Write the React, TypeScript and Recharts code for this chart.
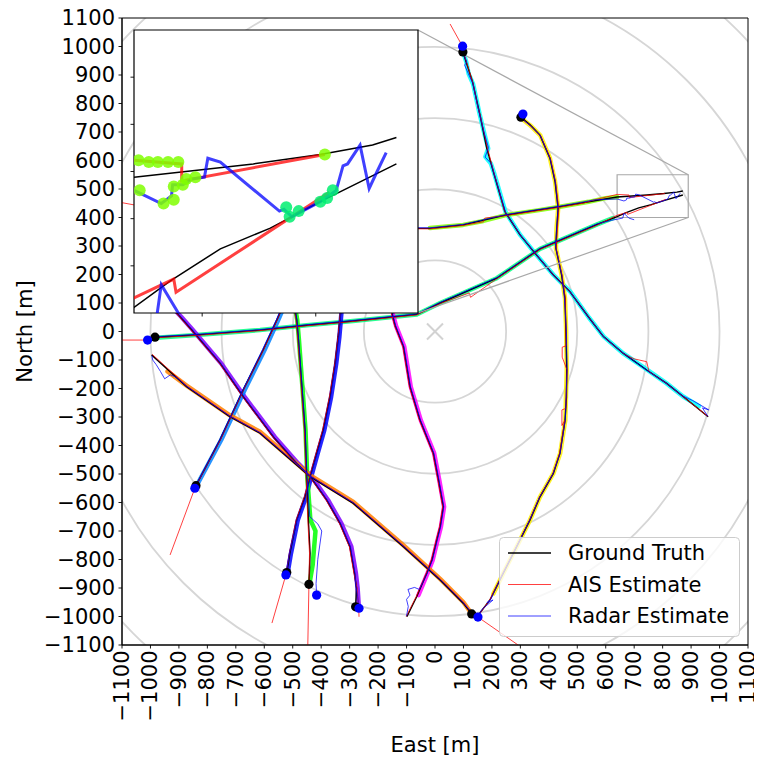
import React from 'react';
import { ComposedChart, Line, Scatter, XAxis, YAxis, ReferenceArea, ReferenceLine, Legend } from 'recharts';

type Pt = [number, number];

// ---------- tick labels / axes ----------
const AXIS_TICKS = [-1100, -1000, -900, -800, -700, -600, -500, -400, -300, -200, -100, 0, 100, 200, 300, 400, 500, 600, 700, 800, 900, 1000, 1100];
const AXIS_DOMAIN: [number, number] = [-1100, 1100];
const RING_RADII = [250, 500, 750, 1000, 1250, 1500];
const INSET_X_DOMAIN: [number, number] = [640, 890];
const INSET_Y_DOMAIN: [number, number] = [400, 550];
const INSET_X_TICKS = [700, 800];
const INSET_Y_TICKS = [425, 450, 475, 500, 525];
const LEGEND_LABELS = ['Ground Truth', 'AIS Estimate', 'Radar Estimate'];
const LEGEND_COLORS = ['#000000', '#ff0000', '#0000ff'];
const X_LABEL = 'East [m]';
const Y_LABEL = 'North [m]';

// ---------- track A (cyan) ----------
const A_TRUTH: Pt[] = [[98, 981], [132, 876], [158, 760], [182, 643], [205, 561], [222, 502], [246, 420], [299, 339], [357, 268], [416, 198], [474, 140], [540, 50], [592, -18], [662, -77], [744, -135], [814, -182], [873, -229], [960, -299]];
const A_AIS: Pt[] = [[53, 1079], [97, 1000], [101, 978], [134, 870], [150, 790], [160, 755], [184, 645], [207, 558], [224, 500], [243, 425], [301, 337], [359, 266], [418, 196], [476, 138], [542, 48], [594, -20], [664, -79], [700, -96], [744, -106], [752, -140], [816, -184], [875, -231], [958, -297]];
const A_RADAR: Pt[] = [[97, 1001], [100, 975], [112, 945], [104, 935], [117, 905], [133, 870], [156, 765], [172, 700], [188, 645], [176, 612], [197, 590], [206, 558], [224, 500], [248, 418], [302, 336], [356, 270], [414, 200], [476, 138], [538, 52], [594, -20], [664, -78], [746, -137], [812, -181], [870, -226], [905, -242], [962, -275], [940, -268], [958, -297]];
const A_MEAS: Pt[] = [[100, 978], [110, 945], [118, 905], [134, 868], [157, 762], [172, 700], [187, 642], [177, 613], [196, 590], [207, 558], [224, 500], [248, 419], [300, 338], [357, 268], [416, 199], [476, 139], [540, 50], [593, -18], [663, -78], [745, -134], [814, -182], [872, -228], [928, -262]];

// ---------- track B (yellow) ----------
const B_TRUTH: Pt[] = [[302, 752], [334, 725], [369, 689], [404, 608], [422, 526], [433, 432], [428, 360], [425, 292], [445, 198], [457, 116], [460, 0], [463, -135], [462, -230], [457, -311], [439, -427], [416, -498], [369, -580], [334, -661], [287, -755], [240, -848], [193, -942], [152, -995]];
const B_AIS: Pt[] = [[303, 748], [336, 722], [371, 686], [406, 606], [424, 524], [435, 430], [430, 358], [426, 290], [447, 196], [458, 114], [461, -50], [447, -55], [447, -90], [464, -135], [460, -270], [446, -275], [446, -330], [456, -312], [438, -428], [414, -500], [367, -582], [332, -663], [285, -757], [238, -850], [191, -944], [154, -994]];
const B_RADAR: Pt[] = [[309, 763], [303, 748], [335, 722], [370, 688], [405, 605], [423, 524], [432, 430], [427, 360], [423, 300], [446, 196], [455, 115], [462, 0], [464, -135], [458, -310], [440, -428], [414, -500], [367, -582], [332, -663], [288, -752], [238, -850], [196, -940], [182, -952], [204, -942], [165, -975], [152, -998]];
const B_MEAS: Pt[] = [[301, 750], [334, 724], [370, 688], [404, 608], [422, 526], [433, 432], [427, 360], [425, 292], [445, 198], [457, 116], [461, 0], [463, -135], [458, -311], [440, -427], [416, -498], [369, -580], [334, -661], [287, -755], [240, -848], [205, -920]];

// ---------- track C (chartreuse, upper line through inset) ----------
const C_TRUTH: Pt[] = [[-1040, 440], [-800, 405], [-500, 375], [-250, 362], [-18, 362], [99, 374], [252, 409], [439, 438], [640, 472], [745, 479], [804, 484], [850, 489], [871, 493]];
const C_AIS: Pt[] = [[-1100, 452], [-1040, 441], [-800, 404], [-500, 374], [-250, 361], [-18, 360], [99, 372], [170, 385], [175, 398], [252, 407], [439, 436], [520, 450], [560, 462], [640, 481], [682, 479], [682, 470], [808, 484]];
const C_RADAR: Pt[] = [[-1040, 445], [-800, 407], [-500, 377], [-250, 364], [-18, 364], [99, 376], [252, 411], [439, 440], [560, 462], [640, 465], [664, 458], [673, 462], [674, 468], [683, 468], [691, 471], [702, 472], [705, 482], [716, 480], [768, 454], [772, 455], [779, 451], [804, 459], [818, 465], [824, 478], [828, 479], [839, 489], [847, 466], [854, 475], [862, 485]];
const C_MEAS: Pt[] = [[-18, 363], [99, 374], [170, 388], [252, 409], [360, 425], [439, 438], [540, 455], [600, 468], [640, 472]];
const C_INSET_MEAS: Pt[] = [[644, 481], [653, 480], [661, 480], [670, 480], [679, 480], [686, 471], [694, 472], [808, 484], [645, 465], [666, 458], [675, 460], [675, 467], [683, 468]];

// ---------- track D (spring green, lower line through inset) ----------
const D_TRUTH: Pt[] = [[-984, -20], [-838, -12], [-615, 5], [-451, 22], [-288, 37], [-64, 60], [18, 100], [217, 187], [369, 290], [568, 375], [640, 403], [672, 417], [716, 434], [760, 445], [804, 459], [871, 479]];
const D_AIS: Pt[] = [[-1100, -30], [-1010, -30], [-984, -22], [-838, -14], [-615, 3], [-451, 20], [-288, 35], [-64, 58], [18, 98], [120, 135], [125, 120], [217, 185], [369, 288], [568, 372], [640, 408], [675, 418], [677, 411], [812, 464]];
const D_RADAR: Pt[] = [[-1010, -30], [-984, -18], [-838, -10], [-615, 7], [-451, 24], [-288, 39], [-64, 62], [18, 102], [217, 189], [369, 292], [568, 377], [620, 390], [660, 398], [664, 415], [681, 398], [700, 392]];
const D_MEAS: Pt[] = [[-980, -22], [-838, -12], [-615, 5], [-451, 22], [-288, 37], [-64, 60], [18, 100], [217, 187], [369, 290], [568, 375], [625, 398]];
const D_INSET_MEAS: Pt[] = [[774, 456], [777, 451], [785, 454], [804, 459], [810, 461], [815, 465]];

// ---------- track E (violet) ----------
const E_TRUTH: Pt[] = [[-279, -966], [-276, -900], [-283, -848], [-299, -755], [-334, -673], [-381, -591], [-439, -509], [-486, -463], [-568, -370], [-674, -229], [-755, -112], [-855, 5], [-896, 52], [-931, 89], [-990, 160]];
const E_AIS: Pt[] = [[-267, -1001], [-268, -971], [-274, -900], [-285, -848], [-301, -755], [-336, -673], [-383, -591], [-441, -509], [-488, -463], [-570, -370], [-676, -229], [-757, -112], [-857, 5], [-898, 52], [-933, 89], [-990, 160]];
const E_RADAR: Pt[] = [[-267, -971], [-272, -930], [-278, -895], [-281, -848], [-297, -755], [-332, -673], [-379, -591], [-437, -509], [-484, -463], [-566, -370], [-672, -229], [-753, -112], [-853, 6], [-894, 53], [-929, 90], [-990, 162]];
const E_MEAS: Pt[] = [[-268, -960], [-272, -900], [-278, -848], [-294, -755], [-329, -673], [-376, -591], [-434, -509], [-481, -463], [-563, -370], [-669, -229], [-751, -112], [-851, 5], [-892, 52], [-927, 89], [-950, 110]];

// ---------- track F (azure) ----------
const F_TRUTH: Pt[] = [[-840, -541], [-756, -381], [-674, -205], [-604, -65], [-556, 40], [-510, 146], [-300, 560]];
const F_AIS: Pt[] = [[-931, -784], [-844, -550], [-838, -538], [-754, -380], [-672, -203], [-602, -63], [-554, 42], [-508, 148], [-300, 560]];
const F_RADAR: Pt[] = [[-844, -550], [-836, -532], [-758, -383], [-676, -207], [-606, -63], [-557, 42], [-512, 147], [-300, 560]];
const F_MEAS: Pt[] = [[-835, -536], [-751, -380], [-669, -205], [-599, -65], [-551, 40], [-505, 146], [-400, 360]];

// ---------- track G (blue) ----------
const G_TRUTH: Pt[] = [[-521, -846], [-510, -778], [-486, -661], [-457, -580], [-439, -509], [-416, -427], [-393, -346], [-369, -229], [-351, -112], [-340, -18], [-334, 40], [-328, 110], [-310, 400]];
const G_AIS: Pt[] = [[-573, -1023], [-524, -854], [-512, -778], [-488, -661], [-459, -580], [-441, -509], [-418, -427], [-395, -346], [-371, -229], [-352, -112], [-341, -18], [-335, 40], [-329, 110], [-310, 400]];
const G_RADAR: Pt[] = [[-524, -854], [-512, -780], [-485, -662], [-455, -582], [-438, -510], [-414, -428], [-391, -347], [-367, -230], [-349, -113], [-338, -18], [-333, 40], [-327, 110], [-310, 400]];
const G_MEAS: Pt[] = [[-518, -848], [-506, -778], [-482, -661], [-453, -580], [-435, -509], [-412, -427], [-389, -346], [-365, -229], [-347, -112], [-336, -18], [-331, 40], [-325, 110]];

// ---------- track H (green) ----------
const H_TRUTH: Pt[] = [[-443, -887], [-439, -778], [-445, -661], [-451, -509], [-457, -346], [-468, -194], [-480, -30], [-486, 40], [-498, 110], [-520, 400]];
const H_AIS: Pt[] = [[-447, -1100], [-443, -887], [-441, -778], [-447, -661], [-453, -509], [-459, -346], [-470, -194], [-482, -30], [-488, 40], [-500, 110], [-520, 400]];
const H_RADAR: Pt[] = [[-416, -925], [-418, -884], [-412, -800], [-398, -700], [-412, -675], [-440, -650], [-450, -509], [-456, -346], [-467, -194], [-479, -30], [-485, 40], [-497, 110], [-520, 400]];
const H_MEAS: Pt[] = [[-441, -885], [-430, -820], [-425, -760], [-420, -700], [-438, -661], [-449, -509], [-455, -346], [-466, -194], [-478, -30], [-484, 40], [-496, 110]];

// ---------- track I (magenta) ----------
const I_TRUTH: Pt[] = [[-160, 260], [-150, 58], [-140, 20], [-111, -53], [-88, -194], [-53, -311], [-6, -427], [12, -521], [29, -615], [18, -685], [6, -732], [-11, -802], [-29, -848], [-64, -930], [-99, -1001]];
const I_AIS: Pt[] = [[-162, 260], [-152, 58], [-142, 20], [-113, -53], [-90, -194], [-55, -311], [-8, -427], [10, -521], [27, -615], [16, -685], [4, -732], [-13, -802], [-31, -848], [-66, -930], [-101, -1000]];
const I_RADAR: Pt[] = [[-158, 260], [-148, 58], [-138, 20], [-109, -53], [-86, -194], [-51, -311], [-4, -427], [14, -521], [31, -615], [20, -685], [8, -732], [-9, -802], [-27, -848], [-55, -905], [-72, -898], [-95, -905], [-88, -925], [-100, -940], [-94, -965], [-100, -998]];
const I_MEAS: Pt[] = [[-147, 58], [-137, 20], [-108, -53], [-85, -194], [-50, -311], [-3, -427], [15, -521], [32, -615], [21, -685], [9, -732], [-8, -802], [-26, -848], [-58, -925]];

// ---------- track J (orange) ----------
const J_TRUTH: Pt[] = [[129, -991], [100, -954], [18, -872], [-111, -755], [-287, -603], [-439, -509], [-615, -357], [-721, -299], [-873, -194], [-996, -82]];
const J_AIS: Pt[] = [[292, -1100], [151, -1002], [131, -990], [102, -952], [20, -870], [-109, -753], [-285, -601], [-437, -507], [-613, -355], [-719, -297], [-871, -192], [-994, -80]];
const J_RADAR: Pt[] = [[151, -1002], [128, -985], [98, -950], [18, -870], [-111, -753], [-287, -601], [-439, -507], [-615, -355], [-721, -297], [-873, -192], [-910, -160], [-930, -152], [-950, -166], [-965, -140], [-980, -116], [-992, -100], [-995, -85]];
const J_MEAS: Pt[] = [[125, -985], [100, -950], [18, -868], [-111, -750], [-287, -598], [-439, -504], [-615, -352], [-721, -294], [-873, -190], [-940, -140]];

// ---------- start markers ----------
const BLACK_DOTS: Pt[] = [[98, 981], [302, 752], [-984, -20], [-279, -966], [-840, -541], [-521, -846], [-443, -887], [129, -991]];
const BLUE_DOTS: Pt[] = [[97, 1001], [309, 763], [-1010, -30], [-267, -971], [-844, -550], [-524, -854], [-416, -925], [151, -1002]];

const TRACKS = [
  { id: 'A', color: '#00ffff', truth: A_TRUTH, ais: A_AIS, radar: A_RADAR, meas: A_MEAS },
  { id: 'B', color: '#ffee00', truth: B_TRUTH, ais: B_AIS, radar: B_RADAR, meas: B_MEAS },
  { id: 'C', color: '#80ff00', truth: C_TRUTH, ais: C_AIS, radar: C_RADAR, meas: C_MEAS },
  { id: 'D', color: '#00ff80', truth: D_TRUTH, ais: D_AIS, radar: D_RADAR, meas: D_MEAS },
  { id: 'E', color: '#8000ff', truth: E_TRUTH, ais: E_AIS, radar: E_RADAR, meas: E_MEAS },
  { id: 'F', color: '#0080ff', truth: F_TRUTH, ais: F_AIS, radar: F_RADAR, meas: F_MEAS },
  { id: 'G', color: '#0000ff', truth: G_TRUTH, ais: G_AIS, radar: G_RADAR, meas: G_MEAS },
  { id: 'H', color: '#00ff00', truth: H_TRUTH, ais: H_AIS, radar: H_RADAR, meas: H_MEAS },
  { id: 'I', color: '#ff00ff', truth: I_TRUTH, ais: I_AIS, radar: I_RADAR, meas: I_MEAS },
  { id: 'J', color: '#ff8000', truth: J_TRUTH, ais: J_AIS, radar: J_RADAR, meas: J_MEAS },
];

// ---------- layout (page coordinates; the container is pulled over the body margin) ----------
const FONT = "'DejaVu Sans', sans-serif";
const FS = 21;
const CHART_W = 762;
const CHART_H = 760;
const Y_AXIS_W = 100;
const X_AXIS_H = 80;
const MARGIN = { top: 18, right: 14, bottom: 35, left: 22 };
const PLOT_L = MARGIN.left + Y_AXIS_W;
const PLOT_T = MARGIN.top;
const PLOT_W = CHART_W - MARGIN.left - MARGIN.right - Y_AXIS_W;
const PLOT_H = CHART_H - MARGIN.top - MARGIN.bottom - X_AXIS_H;

const INSET_L = 134;
const INSET_T = 30;
const INSET_W = 284;
const INSET_H = 283;

const pts = (a: Pt[]) => a.map(([x, y]) => ({ x, y }));
const fmt = (v: number) => (v < 0 ? '\u2212' + Math.abs(v) : String(v));

const span = AXIS_DOMAIN[1] - AXIS_DOMAIN[0];
const pxToX = (px: number) => AXIS_DOMAIN[0] + ((px - PLOT_L) / PLOT_W) * span;
const pxToY = (py: number) => AXIS_DOMAIN[1] - ((py - PLOT_T) / PLOT_H) * span;

const XTick = (props: any) => {
  const { x, y, payload } = props;
  return (
    <text x={x} y={y} transform={`rotate(-90, ${x}, ${y})`} textAnchor="end" dominantBaseline="central" fontFamily={FONT} fontSize={FS} fill="#000">
      {fmt(payload.value)}
    </text>
  );
};
const YTick = (props: any) => {
  const { x, y, payload } = props;
  return (
    <text x={x} y={y} textAnchor="end" dominantBaseline="central" fontFamily={FONT} fontSize={FS} fill="#000">
      {fmt(payload.value)}
    </text>
  );
};
const EmptyTick = () => <g />;

const RingShape = (props: any) => {
  const { cx, cy, payload } = props;
  const r = (payload.r * PLOT_W) / span;
  const id = `ringclip-${payload.r}`;
  return (
    <g>
      <defs>
        <clipPath id={id}>
          <rect x={PLOT_L} y={PLOT_T} width={PLOT_W} height={PLOT_H} />
        </clipPath>
      </defs>
      <circle cx={cx} cy={cy} r={r} fill="none" stroke="#d6d6d6" strokeWidth={1.8} clipPath={`url(#${id})`} />
    </g>
  );
};
const CrossShape = (props: any) => {
  const { cx, cy } = props;
  const s = 8;
  return (
    <g stroke="#d2d2d2" strokeWidth={2}>
      <line x1={cx - s} y1={cy - s} x2={cx + s} y2={cy + s} />
      <line x1={cx - s} y1={cy + s} x2={cx + s} y2={cy - s} />
    </g>
  );
};
const dotShape = (color: string, r: number, opacity = 1) => (props: any) => (
  <circle cx={props.cx} cy={props.cy} r={r} fill={color} fillOpacity={opacity} />
);

const LegendBox = () => (
  <svg width={241} height={100} style={{ display: 'block' }}>
    <rect x={0.5} y={0.5} width={240} height={99} rx={4} ry={4} fill="#ffffff" fillOpacity={0.8} stroke="#cccccc" strokeWidth={1} />
    {LEGEND_LABELS.map((lab, i) => {
      const y = 16 + i * 31.5;
      return (
        <g key={lab}>
          <line x1={9} x2={52} y1={y} y2={y} stroke={LEGEND_COLORS[i]} strokeWidth={i === 0 ? 1.5 : 1} strokeOpacity={i === 0 ? 1 : 0.75} />
          <text x={69} y={y} dominantBaseline="central" fontFamily={FONT} fontSize={FS} fill="#000">{lab}</text>
        </g>
      );
    })}
  </svg>
);

const lineProps = { type: 'linear' as const, dataKey: 'y', dot: false, activeDot: false, isAnimationActive: false, legendType: 'none' as const };

export default function App() {
  const c1 = { x: pxToX(INSET_L + INSET_W), y: pxToY(INSET_T) };
  const c2 = { x: pxToX(INSET_L + INSET_W), y: pxToY(INSET_T + INSET_H) };
  return (
    <div style={{ position: 'relative', width: CHART_W, height: CHART_H, margin: '-8px 0 0 -8px', background: '#fff' }}>
      {/* background rings */}
      <div style={{ position: 'absolute', left: 0, top: 0 }}>
        <ComposedChart width={CHART_W} height={CHART_H} margin={{ top: PLOT_T, right: MARGIN.right, bottom: CHART_H - PLOT_T - PLOT_H, left: PLOT_L }}>
          <XAxis type="number" dataKey="x" domain={AXIS_DOMAIN} hide allowDataOverflow />
          <YAxis type="number" dataKey="y" domain={AXIS_DOMAIN} hide allowDataOverflow />
          <Scatter data={RING_RADII.map((r) => ({ x: 0, y: 0, r }))} shape={RingShape} isAnimationActive={false} legendType="none" />
          <Scatter data={[{ x: 0, y: 0 }]} shape={CrossShape} isAnimationActive={false} legendType="none" />
        </ComposedChart>
      </div>
      {/* main chart */}
      <div style={{ position: 'absolute', left: 0, top: 0 }}>
        <ComposedChart width={CHART_W} height={CHART_H} margin={MARGIN}>
          <XAxis type="number" dataKey="x" domain={AXIS_DOMAIN} ticks={AXIS_TICKS} interval={0} allowDataOverflow height={X_AXIS_H} tickSize={3.5} tick={XTick} axisLine={{ stroke: '#000' }} tickLine={{ stroke: '#000', strokeWidth: 0.9 }} />
          <YAxis type="number" dataKey="y" domain={AXIS_DOMAIN} ticks={AXIS_TICKS} interval={0} allowDataOverflow width={Y_AXIS_W} tickSize={3.5} tickMargin={3.5} tick={YTick} axisLine={{ stroke: '#000' }} tickLine={{ stroke: '#000', strokeWidth: 0.9 }} />
          {TRACKS.map((t) => (
            <Line key={`m-${t.id}`} {...lineProps} data={pts(t.meas)} stroke={t.color} strokeWidth={4.5} strokeOpacity={0.85} strokeLinejoin="round" strokeLinecap="round" />
          ))}
          {TRACKS.map((t) => (
            <Line key={`t-${t.id}`} {...lineProps} data={pts(t.truth)} stroke="#000" strokeWidth={1.4} />
          ))}
          {TRACKS.map((t) => (
            <Line key={`a-${t.id}`} {...lineProps} data={pts(t.ais)} stroke="#ff0000" strokeWidth={1} strokeOpacity={0.75} />
          ))}
          {TRACKS.map((t) => (
            <Line key={`r-${t.id}`} {...lineProps} data={pts(t.radar)} stroke="#0000ff" strokeWidth={1} strokeOpacity={0.75} />
          ))}
          <Scatter data={pts(BLACK_DOTS)} shape={dotShape('#000', 4.6)} isAnimationActive={false} legendType="none" />
          <Scatter data={pts(BLUE_DOTS)} shape={dotShape('#0000ff', 4.6)} isAnimationActive={false} legendType="none" />
          <ReferenceArea x1={INSET_X_DOMAIN[0]} x2={INSET_X_DOMAIN[1]} y1={INSET_Y_DOMAIN[0]} y2={INSET_Y_DOMAIN[1]} fill="none" stroke="#a8a8a8" strokeWidth={1.2} ifOverflow="visible" />
          <ReferenceLine segment={[c1, { x: INSET_X_DOMAIN[1], y: INSET_Y_DOMAIN[1] }]} stroke="#a8a8a8" strokeWidth={1.2} ifOverflow="visible" />
          <ReferenceLine segment={[c2, { x: INSET_X_DOMAIN[1], y: INSET_Y_DOMAIN[0] }]} stroke="#a8a8a8" strokeWidth={1.2} ifOverflow="visible" />
          <ReferenceArea x1={AXIS_DOMAIN[0]} x2={AXIS_DOMAIN[1]} y1={AXIS_DOMAIN[0]} y2={AXIS_DOMAIN[1]} fill="none" stroke="#000" strokeWidth={1} ifOverflow="visible" />
          <Legend layout="horizontal" verticalAlign="middle" align="center" wrapperStyle={{ position: 'absolute', left: 499, top: 537, width: 241, height: 100 }} content={() => <LegendBox />} />
        </ComposedChart>
      </div>
      {/* axis titles */}
      <svg width={CHART_W} height={CHART_H} style={{ position: 'absolute', left: 0, top: 0, pointerEvents: 'none' }}>
        <text x={PLOT_L + PLOT_W / 2} y={752} textAnchor="middle" fontFamily={FONT} fontSize={FS} fill="#000">{X_LABEL}</text>
        <text x={32} y={PLOT_T + PLOT_H / 2} transform={`rotate(-90, 32, ${PLOT_T + PLOT_H / 2})`} textAnchor="middle" fontFamily={FONT} fontSize={FS} fill="#000">{Y_LABEL}</text>
      </svg>
      {/* inset */}
      <div style={{ position: 'absolute', left: INSET_L, top: INSET_T, width: INSET_W, height: INSET_H, background: '#fff' }} />
      <div style={{ position: 'absolute', left: INSET_L - 10, top: INSET_T - 5 }}>
        <ComposedChart width={INSET_W + 15} height={INSET_H + 15} margin={{ top: 5, right: 5, bottom: 0, left: 0 }}>
          <XAxis type="number" dataKey="x" domain={INSET_X_DOMAIN} ticks={INSET_X_TICKS} interval={0} allowDataOverflow height={10} tickSize={3.5} tick={EmptyTick} axisLine={false} tickLine={{ stroke: '#000', strokeWidth: 0.9 }} />
          <YAxis type="number" dataKey="y" domain={INSET_Y_DOMAIN} ticks={INSET_Y_TICKS} interval={0} allowDataOverflow width={10} tickSize={3.5} tick={EmptyTick} axisLine={false} tickLine={{ stroke: '#000', strokeWidth: 0.9 }} />
          <Scatter data={pts(C_INSET_MEAS)} shape={dotShape('#80ff00', 6, 0.85)} isAnimationActive={false} legendType="none" />
          <Scatter data={pts(D_INSET_MEAS)} shape={dotShape('#00ee70', 6, 0.85)} isAnimationActive={false} legendType="none" />
          <Line {...lineProps} data={pts(C_TRUTH)} stroke="#000" strokeWidth={1.5} />
          <Line {...lineProps} data={pts(D_TRUTH)} stroke="#000" strokeWidth={1.5} />
          <Line {...lineProps} data={pts(C_AIS)} stroke="#ff0000" strokeWidth={3} strokeOpacity={0.75} />
          <Line {...lineProps} data={pts(D_AIS)} stroke="#ff0000" strokeWidth={3} strokeOpacity={0.75} />
          <Line {...lineProps} data={pts(C_RADAR)} stroke="#0000ff" strokeWidth={3} strokeOpacity={0.75} />
          <Line {...lineProps} data={pts(D_RADAR)} stroke="#0000ff" strokeWidth={3} strokeOpacity={0.75} />
          <ReferenceArea x1={INSET_X_DOMAIN[0]} x2={INSET_X_DOMAIN[1]} y1={INSET_Y_DOMAIN[0]} y2={INSET_Y_DOMAIN[1]} fill="none" stroke="#000" strokeWidth={1.2} ifOverflow="visible" />
        </ComposedChart>
      </div>
    </div>
  );
}
